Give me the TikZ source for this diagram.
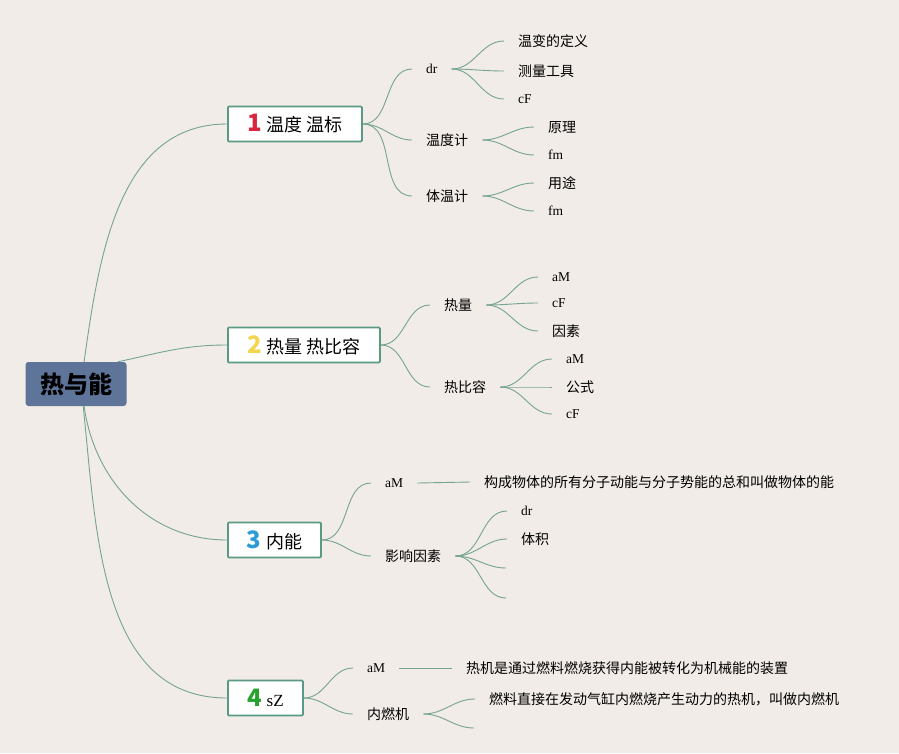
\documentclass[tikz,border=0pt]{standalone}
\usepackage{fontspec}
\setmainfont{Liberation Serif}
\newfontfamily\cjk{Noto Sans CJK SC}
\definecolor{bgc}{HTML}{F1ECE7}
\definecolor{rootc}{HTML}{5E7499}
\definecolor{branchc}{HTML}{5A9A85}
\definecolor{linkc}{HTML}{76A393}
\definecolor{cone}{HTML}{D7263D}
\definecolor{ctwo}{HTML}{F3D54E}
\definecolor{cthree}{HTML}{2D9BD8}
\definecolor{cfour}{HTML}{27A22E}
\begin{document}
\begin{tikzpicture}[x=1pt,y=-1pt,
  link/.style={draw=linkc, line width=0.9pt},
  rootnode/.style={fill=rootc, rounded corners=3pt, minimum width=101pt, minimum height=44pt, inner sep=0pt, font=\cjk\bfseries\fontsize{24}{26}\selectfont},
  branch/.style={draw=branchc, line width=1.8pt, fill=white, rounded corners=1pt, minimum height=35pt, anchor=west, inner sep=0pt, font=\cjk\fontsize{18}{21}\selectfont},
  child/.style={anchor=west, inner xsep=14pt, inner ysep=3pt, font=\cjk\fontsize{14}{16}\selectfont},
  lat/.style={anchor=west, inner xsep=14pt, inner ysep=3pt, font=\fontsize{13.5}{16}\selectfont}
]
\fill[bgc] (0,0) rectangle (899,753);
\useasboundingbox (0,0) rectangle (899,753);

% root
\node[rootnode] (root) at (76,384) {热与能};

% branches
\node[branch, minimum width=134pt] (b1) at (227,124) {{\color{cone}\bfseries\fontsize{24}{24}\selectfont 1}\hspace{5pt}温度 温标};
\node[branch, minimum width=152pt] (b2) at (227,345) {{\color{ctwo}\bfseries\fontsize{24}{24}\selectfont 2}\hspace{5pt}热量 热比容};
\node[branch, minimum width=93pt] (b3) at (227,540) {{\color{cthree}\bfseries\fontsize{24}{24}\selectfont 3}\hspace{5pt}内能};
\node[branch, minimum width=75pt] (b4) at (227,698) {{\color{cfour}\bfseries\fontsize{24}{24}\selectfont 4}\hspace{5pt}{\rmfamily\fontsize{17}{20}\selectfont sZ}};

\draw[link] (root.70) to[out=82,in=180] (b1.west);
\draw[link] (root.28) to[out=12,in=180] (b2.west);
\draw[link] (root.-70) to[out=-82,in=180] (b3.west);
\draw[link] (root.-72) to[out=-84,in=180] (b4.west);

% branch 1
\node[lat] (dr1) at (412,69) {dr};
\node[child] (wdj) at (412,140) {温度计};
\node[child] (twj) at (412,196) {体温计};
\foreach \c in {dr1,wdj,twj} \draw[link] (b1.east) to[out=0,in=180] (\c.west);

\node[child] (wbd) at (504,41) {温变的定义};
\node[child] (clgj) at (504,71) {测量工具};
\node[lat] (cf1) at (504,99) {cF};
\foreach \c in {wbd,clgj,cf1} \draw[link] (dr1.east) to[out=0,in=180] (\c.west);

\node[child] (yl) at (534,127) {原理};
\node[lat] (fm1) at (534,155) {fm};
\foreach \c in {yl,fm1} \draw[link] (wdj.east) to[out=0,in=180] (\c.west);

\node[child] (yt) at (534,183) {用途};
\node[lat] (fm2) at (534,211) {fm};
\foreach \c in {yt,fm2} \draw[link] (twj.east) to[out=0,in=180] (\c.west);

% branch 2
\node[child] (rl) at (430,305) {热量};
\node[child] (rbr) at (430,387) {热比容};
\foreach \c in {rl,rbr} \draw[link] (b2.east) to[out=0,in=180] (\c.west);

\node[lat] (am1) at (538,277) {aM};
\node[lat] (cf2) at (538,303) {cF};
\node[child] (ys1) at (538,331) {因素};
\foreach \c in {am1,cf2,ys1} \draw[link] (rl.east) to[out=0,in=180] (\c.west);

\node[lat] (am2) at (552,359) {aM};
\node[child] (gs) at (552,387) {公式};
\node[lat] (cf3) at (552,414) {cF};
\foreach \c in {am2,gs,cf3} \draw[link] (rbr.east) to[out=0,in=180] (\c.west);

% branch 3
\node[lat] (am3) at (371,483) {aM};
\node[child] (yxys) at (371,556) {影响因素};
\foreach \c in {am3,yxys} \draw[link] (b3.east) to[out=0,in=180] (\c.west);

\node[child] (nndef) at (470,482) {构成物体的所有分子动能与分子势能的总和叫做物体的能};
\draw[link] (am3.east) -- (nndef.west);

\node[lat] (dr2) at (507,511) {dr};
\node[child] (tj) at (507,539) {体积};
\coordinate (e1) at (506,568);
\coordinate (e2) at (506,598);
\foreach \c in {dr2.west,tj.west,e1,e2} \draw[link] (yxys.east) to[out=0,in=180] (\c);

% branch 4
\node[lat] (am4) at (353,668) {aM};
\node[child] (nrj) at (353,714) {内燃机};
\foreach \c in {am4,nrj} \draw[link] (b4.east) to[out=0,in=180] (\c.west);

\node[child] (rjdef) at (452,668) {热机是通过燃料燃烧获得内能被转化为机械能的装置};
\draw[link] (am4.east) -- (rjdef.west);

\node[child] (nrjdef) at (475,699) {燃料直接在发动气缸内燃烧产生动力的热机，叫做内燃机};
\coordinate (e3) at (474,728);
\foreach \c in {nrjdef.west,e3} \draw[link] (nrj.east) to[out=0,in=180] (\c);
\end{tikzpicture}
\end{document}
